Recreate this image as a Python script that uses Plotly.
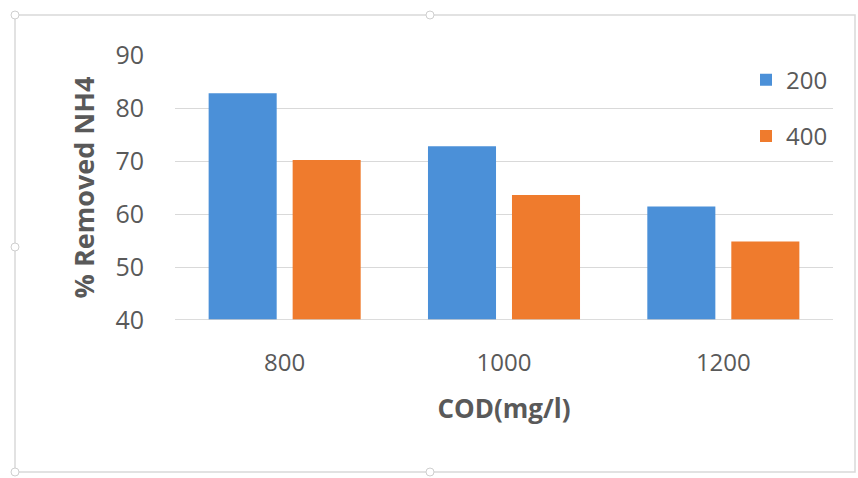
import plotly.graph_objects as go

categories = ["800", "1000", "1200"]
series_names = ["200", "400"]
values_200 = [82.8, 72.8, 61.4]
values_400 = [70.2, 63.6, 54.8]
y_ticks = [40, 50, 60, 70, 80, 90]

colors = ["#4b90d8", "#ef7b2d"]

fig = go.Figure()
for name, vals, col in zip(series_names, [values_200, values_400], colors):
    fig.add_trace(go.Bar(x=categories, y=vals, name=name, marker=dict(color=col, line=dict(width=0)),
                         legendgroup=name))

W, H = 858, 478
L, R, T, B = 175, 25, 55, 158

fig.update_layout(
    width=W, height=H,
    margin=dict(l=L, r=R, t=T, b=B),
    paper_bgcolor="white", plot_bgcolor="white",
    font=dict(family="Open Sans", color="#595959"),
    barmode="group", bargap=0.234, bargroupgap=0.19,
    showlegend=True,
    legend=dict(x=1.0, xanchor="right", y=0.99, yanchor="top", bgcolor="rgba(0,0,0,0)",
                font=dict(size=24, color="#595959"), tracegroupgap=22, itemwidth=30),
    xaxis=dict(showgrid=False, showline=False, ticks="", tickfont=dict(size=24, color="#595959"),
               ticklabelstandoff=26,
               title=dict(text="<b>COD(mg/l)</b>", font=dict(size=26, color="#595959"), standoff=22)),
    yaxis=dict(range=[40, 90], tickvals=y_ticks, showgrid=True, gridcolor="#d9d9d9", gridwidth=1.2,
               zeroline=False, showline=False, ticks="", tickfont=dict(size=25, color="#595959"),
               ticklabelstandoff=30,
               title=dict(text="<b>% Removed NH4</b>", font=dict(size=27, color="#595959"), standoff=12)),
)
# x baseline
fig.add_shape(type="line", xref="paper", yref="y", x0=0, x1=1, y0=40, y1=40,
              line=dict(color="#d0d0d0", width=1.5), layer="above")

# outer frame (chart selection border)
fig.add_shape(type="rect", xref="paper", yref="paper",
              x0=(15 - L) / (W - L - R), x1=(855 - L) / (W - L - R),
              y0=(H - B - 472) / (H - T - B), y1=(H - B - 15) / (H - T - B),
              line=dict(color="#d9d9d9", width=1.5))
for (px, py) in [(15, 15), (430, 15), (15, 247), (430, 472), (15, 472)]:
    cx = (px - L) / (W - L - R)
    cy = (H - B - py) / (H - T - B)
    fig.add_shape(type="circle", xref="paper", yref="paper", x0=cx - 4 / (W - L - R), x1=cx + 4 / (W - L - R),
                  y0=cy - 4 / (H - T - B), y1=cy + 4 / (H - T - B),
                  line=dict(color="#cfcfcf", width=1), fillcolor="white")

fig.write_html("out.html")
